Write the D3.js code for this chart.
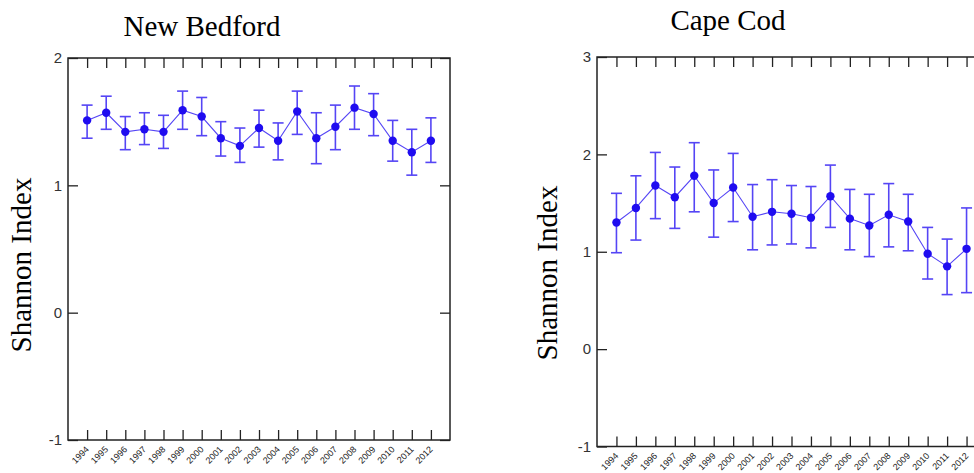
<!DOCTYPE html>
<html>
<head>
<meta charset="utf-8">
<script src="https://cdn.jsdelivr.net/npm/d3@7"></script>
<style>
  html, body { margin: 0; padding: 0; background: #fff; }
  svg { display: block; }
</style>
</head>
<body>
<svg id="chart" width="974" height="473"></svg>
<script>
// Survey years
const years = [1994, 1995, 1996, 1997, 1998, 1999, 2000, 2001, 2002, 2003,
               2004, 2005, 2006, 2007, 2008, 2009, 2010, 2011, 2012];

// New Bedford: Shannon diversity mean with error-bar limits
const nbMean = [1.51, 1.57, 1.42, 1.44, 1.42, 1.59, 1.54, 1.37, 1.31, 1.45,
                1.35, 1.58, 1.37, 1.46, 1.61, 1.56, 1.35, 1.26, 1.35];
const nbHigh = [1.63, 1.70, 1.54, 1.57, 1.55, 1.74, 1.69, 1.50, 1.45, 1.59,
                1.49, 1.74, 1.57, 1.63, 1.78, 1.72, 1.51, 1.44, 1.53];
const nbLow  = [1.37, 1.44, 1.28, 1.32, 1.29, 1.44, 1.39, 1.23, 1.18, 1.30,
                1.20, 1.40, 1.17, 1.28, 1.44, 1.39, 1.19, 1.08, 1.18];

// Cape Cod: Shannon diversity mean with error-bar limits
const ccMean = [1.30, 1.45, 1.68, 1.56, 1.78, 1.50, 1.66, 1.36, 1.41, 1.39,
                1.35, 1.57, 1.34, 1.27, 1.38, 1.31, 0.98, 0.85, 1.03];
const ccHigh = [1.60, 1.78, 2.02, 1.87, 2.12, 1.84, 2.01, 1.69, 1.74, 1.68,
                1.67, 1.89, 1.64, 1.59, 1.70, 1.59, 1.25, 1.13, 1.45];
const ccLow  = [0.99, 1.12, 1.34, 1.24, 1.41, 1.15, 1.31, 1.02, 1.07, 1.08,
                1.04, 1.25, 1.02, 0.95, 1.05, 1.01, 0.72, 0.56, 0.58];

// Y-axis tick values per panel
const nbTicks = [-1, 0, 1, 2];
const ccTicks = [-1, 0, 1, 2, 3];

const svg = d3.select("#chart");

const seriesColor = "#1f0cf0";
const barColor = "#5545f5";

function panel(cfg) {
  const { left, top, width, height, yDomain, yTicks, mean, low, high,
          title, titleX, titleY, yTitleX, yTitleY } = cfg;

  const x = d3.scaleLinear().domain([years[0] - 1, years[years.length - 1] + 1])
    .range([left, left + width]);
  const y = d3.scaleLinear().domain(yDomain).range([top + height, top]);

  const g = svg.append("g");

  // Title
  g.append("text")
    .attr("x", titleX).attr("y", titleY)
    .attr("text-anchor", "middle")
    .attr("font-family", "'Liberation Serif', 'Times New Roman', serif")
    .attr("font-size", 29)
    .attr("fill", "#000")
    .text(title);

  // Y-axis title
  g.append("text")
    .attr("transform", `translate(${yTitleX},${yTitleY}) rotate(-90)`)
    .attr("text-anchor", "middle")
    .attr("font-family", "'Liberation Serif', 'Times New Roman', serif")
    .attr("font-size", 29)
    .attr("fill", "#000")
    .text("Shannon Index");

  // Left axis: inward ticks with labels
  const yAxisL = g.append("g")
    .attr("transform", `translate(${left},0)`)
    .call(d3.axisLeft(y).tickValues(yTicks).tickFormat(d => String(d))
      .tickSizeInner(-10).tickSizeOuter(0).tickPadding(6));
  yAxisL.select(".domain").remove();
  yAxisL.selectAll("line").attr("stroke", "#222").attr("stroke-width", 1.3);
  yAxisL.selectAll("text")
    .attr("x", -6)
    .attr("font-family", "'Liberation Sans', Arial, sans-serif")
    .attr("font-size", 15)
    .attr("fill", "#333");

  // Right axis: inward ticks, no labels
  const yAxisR = g.append("g")
    .attr("transform", `translate(${left + width},0)`)
    .call(d3.axisRight(y).tickValues(yTicks).tickFormat("")
      .tickSizeInner(-10).tickSizeOuter(0));
  yAxisR.select(".domain").remove();
  yAxisR.selectAll("line").attr("stroke", "#222").attr("stroke-width", 1.3);

  // Top axis: inward ticks
  const xAxisT = g.append("g")
    .attr("transform", `translate(0,${top})`)
    .call(d3.axisTop(x).tickValues(years).tickFormat("")
      .tickSizeInner(-10).tickSizeOuter(0));
  xAxisT.select(".domain").remove();
  xAxisT.selectAll("line").attr("stroke", "#222").attr("stroke-width", 1.3);

  // Bottom axis: inward ticks, slanted year labels
  const xAxisB = g.append("g")
    .attr("transform", `translate(0,${top + height})`)
    .call(d3.axisBottom(x).tickValues(years).tickFormat(d => String(d))
      .tickSizeInner(-10).tickSizeOuter(0));
  xAxisB.select(".domain").remove();
  xAxisB.selectAll("line").attr("stroke", "#222").attr("stroke-width", 1.3);
  xAxisB.selectAll("text")
    .attr("y", 0).attr("dy", 0)
    .attr("text-anchor", "end")
    .attr("transform", "translate(2,10) rotate(-45)")
    .attr("font-family", "'Liberation Sans', Arial, sans-serif")
    .attr("font-size", 9)
    .attr("fill", "#222");

  // Frame
  g.append("rect")
    .attr("x", left).attr("y", top)
    .attr("width", width).attr("height", height)
    .attr("fill", "none")
    .attr("stroke", "#222")
    .attr("stroke-width", 1.5);

  const data = years.map((yr, i) => ({ yr, m: mean[i], lo: low[i], hi: high[i] }));

  // Error bars
  const eb = g.append("g").attr("stroke", barColor).attr("stroke-width", 1.6).attr("fill", "none");
  eb.selectAll("line.v").data(data).join("line").attr("class", "v")
    .attr("x1", d => x(d.yr)).attr("x2", d => x(d.yr))
    .attr("y1", d => y(d.lo)).attr("y2", d => y(d.hi));
  eb.selectAll("line.t").data(data).join("line").attr("class", "t")
    .attr("x1", d => x(d.yr) - 5.5).attr("x2", d => x(d.yr) + 5.5)
    .attr("y1", d => y(d.hi)).attr("y2", d => y(d.hi));
  eb.selectAll("line.b").data(data).join("line").attr("class", "b")
    .attr("x1", d => x(d.yr) - 5.5).attr("x2", d => x(d.yr) + 5.5)
    .attr("y1", d => y(d.lo)).attr("y2", d => y(d.lo));

  // Connecting line
  g.append("path")
    .datum(data)
    .attr("fill", "none")
    .attr("stroke", barColor)
    .attr("stroke-width", 1.1)
    .attr("d", d3.line().x(d => x(d.yr)).y(d => y(d.m)));

  // Mean markers
  g.selectAll("circle.pt").data(data).join("circle").attr("class", "pt")
    .attr("cx", d => x(d.yr)).attr("cy", d => y(d.m))
    .attr("r", 4.2)
    .attr("fill", seriesColor);
}

panel({
  left: 68, top: 58, width: 382, height: 382,
  yDomain: [-1, 2], yTicks: nbTicks,
  mean: nbMean, low: nbLow, high: nbHigh,
  title: "New Bedford", titleX: 202, titleY: 36,
  yTitleX: 31, yTitleY: 265
});

panel({
  left: 597, top: 57, width: 389, height: 389.5,
  yDomain: [-1, 3], yTicks: ccTicks,
  mean: ccMean, low: ccLow, high: ccHigh,
  title: "Cape Cod", titleX: 728, titleY: 30,
  yTitleX: 557, yTitleY: 273
});
</script>
</body>
</html>
